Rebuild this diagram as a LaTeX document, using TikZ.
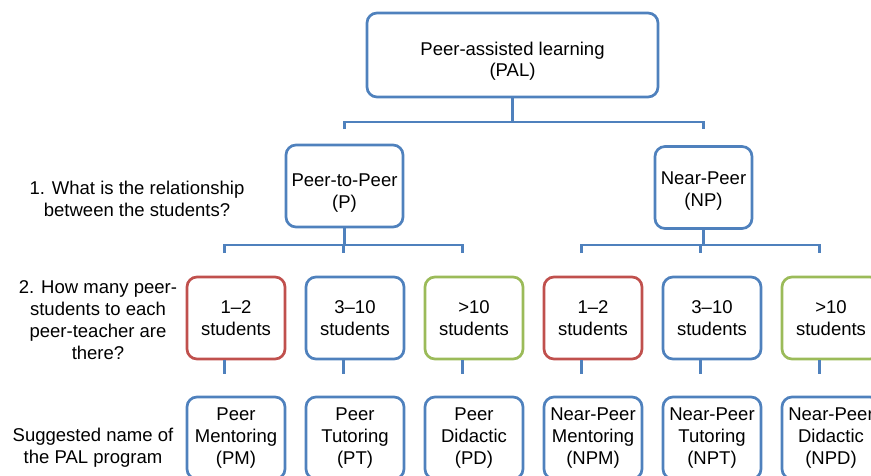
\documentclass[tikz,border=0pt]{standalone}
\usepackage{fontspec}
\setmainfont{Liberation Sans}
\usetikzlibrary{calc}

\definecolor{palblue}{RGB}{79,129,189}
\definecolor{palred}{RGB}{192,80,77}
\definecolor{palgreen}{RGB}{155,187,89}
\newcommand{\diagfont}{\fontsize{15.8}{18.6}\selectfont}
\newcommand{\lowstrut}[1]{\rule{0pt}{#1}}

\tikzset{
  box/.style={shape=rectangle, draw=palblue, line width=2.3pt, rounded corners=0.3cm,
    align=center, minimum width=2.94cm, minimum height=2.46cm, inner sep=1pt, font=\diagfont},
  redbox/.style={box, draw=palred},
  greenbox/.style={box, draw=palgreen},
  question/.style={align=center, font=\diagfont},
  conn/.style={draw=palblue, line width=2pt}
}

\begin{document}
\begin{tikzpicture}[x=0.03cm,y=-0.03cm]
\useasboundingbox (0,0) rectangle (871,475);
\clip (0,0) rectangle (871,475);

% top
\path (512.5,55) node (pal) [box, minimum width=8.73cm, minimum height=2.52cm] {\lowstrut{22pt}Peer-assisted learning\\(PAL)};
\path (344.5,186) node (p) [box, minimum width=3.51cm] {\lowstrut{23pt}Peer-to-Peer\\(P)};
\path (703.5,187.5) node (np) [box, minimum width=2.91cm] {\lowstrut{17pt}Near-Peer\\(NP)};

% group sizes
\path (236,318) node (m1) [redbox] {1–2\\students};
\path (355,318) node (m2) [box] {3–10\\students};
\path (474,318) node (m3) [greenbox] {>10\\students};
\path (593,318) node (m4) [redbox] {1–2\\students};
\path (712,318) node (m5) [box] {3–10\\students};
\path (831,318) node (m6) [greenbox] {>10\\students};

% program names
\path (236,438) node (n1) [box] {Peer\\Mentoring\\(PM)};
\path (355,438) node (n2) [box] {Peer\\Tutoring\\(PT)};
\path (474,438) node (n3) [box] {Peer\\Didactic\\(PD)};
\path (593,438) node (n4) [box] {Near-Peer\\Mentoring\\(NPM)};
\path (712,438) node (n5) [box] {Near-Peer\\Tutoring\\(NPT)};
\path (831,438) node (n6) [box] {Near-Peer\\Didactic\\(NPD)};

% questions
\path (137,199) node (q1) [question] {1. What is the relationship\\between the students?};
\path (98,320) node (q2) [question] {2. How many peer-\\students to each\\peer-teacher are\\there?};
\path (93,448) node (q3) [question] {Suggested name of\\the PAL program};

% brackets
\coordinate (b0) at (512.5,122);
\coordinate (b1) at (344.5,245);
\coordinate (b2) at (703.5,245);
\draw[conn] (pal.south) -- (b0);
\draw[conn] ($(p.north |- b0)+(0,7)$) -- (p.north |- b0) -- (np.north |- b0) -- ++(0,7);
\draw[conn] (p.south) -- (b1);
\draw[conn] ($(b1 -| m1.north)+(-11.5,8)$) -- ($(b1 -| m1.north)+(-11.5,0)$) -- ($(b1 -| m3.north)+(-11.5,0)$) -- ++(0,8);
\draw[conn] ($(b1 -| m2.north)+(-11.5,0)$) -- ++(0,8);
\draw[conn] (np.south) -- (b2);
\draw[conn] ($(b2 -| m4.north)+(-11.5,8)$) -- ($(b2 -| m4.north)+(-11.5,0)$) -- ($(b2 -| m6.north)+(-11.5,0)$) -- ++(0,8);
\draw[conn] ($(b2 -| m5.north)+(-11.5,0)$) -- ++(0,8);

% stubs
\coordinate (s1) at ($(m1.south)+(-11.5,14)$);
\coordinate (s2) at ($(m2.south)+(-11.5,14)$);
\coordinate (s3) at ($(m3.south)+(-11.5,14)$);
\coordinate (s4) at ($(m4.south)+(-11.5,14)$);
\coordinate (s5) at ($(m5.south)+(-11.5,14)$);
\coordinate (s6) at ($(m6.south)+(-11.5,14)$);
\draw[conn] (m1.south -| s1) -- (s1);
\draw[conn] (m2.south -| s2) -- (s2);
\draw[conn] (m3.south -| s3) -- (s3);
\draw[conn] (m4.south -| s4) -- (s4);
\draw[conn] (m5.south -| s5) -- (s5);
\draw[conn] (m6.south -| s6) -- (s6);

\end{tikzpicture}
\end{document}
